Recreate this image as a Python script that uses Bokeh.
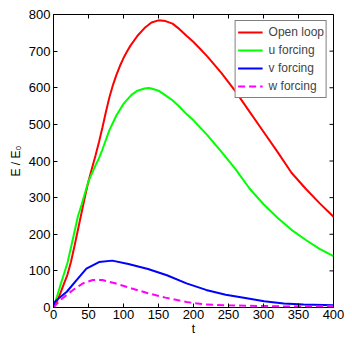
import math
from bokeh.plotting import figure
from bokeh.models import Range1d, FixedTicker, Legend, LegendItem
from bokeh.embed import file_html
from bokeh.resources import INLINE

# ---- data ----
t_open = [0, 5, 10, 15, 20, 25, 30, 35, 40, 45, 50, 55, 60, 65, 70, 75, 80, 85, 90, 95, 100,
          105, 110, 120, 130, 140, 150, 160, 170, 180, 190, 200, 210, 220, 240, 260, 280, 300,
          320, 340, 360, 380, 400]
e_open = [0, 17, 40, 65, 90, 125, 168, 213, 258, 303, 345, 380, 415, 452, 492, 535, 575, 608, 636, 660, 681,
          699, 715, 742, 763, 778, 784, 782, 775, 760, 742, 725, 705, 685, 640, 590, 535, 480,
          425, 368, 325, 285, 248]

t_u = [0, 5, 10, 20, 28, 35, 40, 50, 60, 65, 70, 80, 90, 100, 111, 120, 130, 136, 140, 150,
       160, 170, 180, 190, 200, 220, 240, 260, 280, 300, 320, 340, 360, 380, 400]
e_u = [0, 30, 62, 122, 190, 250, 280, 345, 388, 408, 432, 485, 525, 556, 580, 592, 598, 599, 598, 592,
       579, 566, 548, 528, 511, 470, 425, 378, 325, 282, 245, 212, 185, 160, 140]

t_v = [0, 2, 5, 19, 33, 47, 65, 84, 107, 135, 162, 190, 218, 246, 274, 301, 329, 357, 400]
e_v = [0, 15, 21, 43, 75, 106, 124, 128, 119, 105, 88, 66, 48, 35, 26, 17, 11, 8, 6]

t_w = [0, 1, 10, 28, 42, 56, 70, 88, 112, 135, 160, 190, 218, 250, 274, 300, 329, 360, 393, 400]
e_w = [0, 2, 21, 48, 66, 75, 75, 66, 52, 39, 27, 15, 8, 6, 5, 4, 3, 3, 4, 4]

x_ticks = [0, 50, 100, 150, 200, 250, 300, 350, 400]
y_ticks = [0, 100, 200, 300, 400, 500, 600, 700, 800]
x_max = 400
y_max = 800

FONT = "Liberation Sans"

p = figure(width=344, height=338, output_backend="svg", toolbar_location=None,
           x_range=Range1d(0, x_max), y_range=Range1d(0, y_max),
           min_border_left=53, min_border_right=11, min_border_top=14, min_border_bottom=27)
p.background_fill_color = "white"
p.border_fill_color = "white"
p.outline_line_color = "black"
p.outline_line_width = 1
p.xgrid.visible = False
p.ygrid.visible = False

for ax, ticks in ((p.xaxis[0], x_ticks), (p.yaxis[0], y_ticks)):
    ax.ticker = FixedTicker(ticks=ticks)
    ax.major_tick_in = 4
    ax.major_tick_out = 0
    ax.minor_tick_line_color = None
    ax.axis_line_color = "black"
    ax.major_tick_line_color = "black"
    ax.major_label_text_font = FONT
    ax.major_label_text_font_size = "13px"
    ax.major_label_text_color = "black"
    ax.axis_label_text_font = FONT
    ax.axis_label_text_font_style = "normal"
    ax.axis_label_text_color = "black"

p.xaxis[0].major_label_standoff = 2
p.xaxis[0].axis_label = "t"
p.xaxis[0].axis_label_text_font_size = "12px"
p.xaxis[0].axis_label_standoff = 0
p.yaxis[0].major_label_standoff = 3
p.yaxis[0].axis_label = "E / E\u2080"
p.yaxis[0].axis_label_text_font_size = "12px"
p.yaxis[0].axis_label_standoff = 3

# inward ticks on the top and right edges (half of each dash is clipped by the frame)
p.scatter(x_ticks, [y_max] * len(x_ticks), marker="dash", size=8, angle=math.pi / 2,
          line_color="black", line_width=1)
p.scatter([x_max] * len(y_ticks), y_ticks, marker="dash", size=8,
          line_color="black", line_width=1)

r1 = p.line(t_open, e_open, line_color="#ff0000", line_width=2)
r2 = p.line(t_u, e_u, line_color="#00ff00", line_width=2)
r3 = p.line(t_v, e_v, line_color="#0000ff", line_width=2)
r4 = p.line(t_w, e_w, line_color="#ff00ff", line_width=2, line_dash="7 4")

legend = Legend(items=[LegendItem(label="Open loop", renderers=[r1]),
                       LegendItem(label="u forcing", renderers=[r2]),
                       LegendItem(label="v forcing", renderers=[r3]),
                       LegendItem(label="w forcing", renderers=[r4])],
                location="top_right", margin=6, padding=2, spacing=0,
                glyph_width=25, glyph_height=18, label_height=18, label_standoff=6,
                label_text_font=FONT, label_text_font_size="12px",
                border_line_color="black", border_line_width=1,
                background_fill_color="white", background_fill_alpha=1)
p.add_layout(legend, "center")

open("out.html", "w").write(file_html(p, INLINE))
